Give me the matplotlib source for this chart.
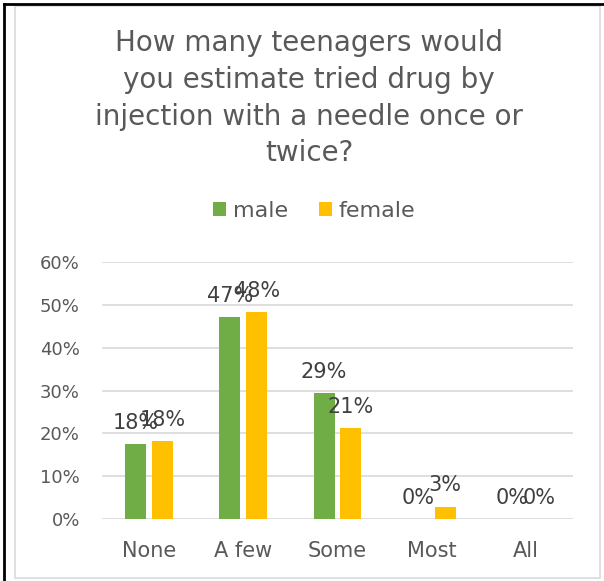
import matplotlib.pyplot as plt
import numpy as np
from matplotlib.patches import Rectangle
from matplotlib.lines import Line2D

# ===========================
# DATA
# ===========================

categories = ["None", "A few", "Some", "Most", "All"]
male = [0.176, 0.471, 0.293, 0.0, 0.0]
female = [0.181, 0.484, 0.212, 0.029, 0.0]
yticks = [0.0, 0.1, 0.2, 0.3, 0.4, 0.5, 0.6]

title = "How many teenagers would\nyou estimate tried drug by\ninjection with a needle once or\ntwice?"

GREEN = "#70AD47"
YELLOW = "#FFC000"
TXT = "#595959"

plt.rcParams["font.family"] = ["DejaVu Sans"]

# ===========================
# FIGURE
# ===========================

fig = plt.figure(figsize=(6.04, 5.81), dpi=100)
W, H = 604, 581

# frame around the chart
fig.patches.append(Rectangle((15 / W, 3 / H), 585 / W, 572 / H, transform=fig.transFigure,
                             fill=False, edgecolor="#D9D9D9", linewidth=1.2))
fig.lines.append(Line2D([4 / W, 4 / W], [0, 1 - 4 / H], transform=fig.transFigure,
                        color="black", linewidth=2))
fig.lines.append(Line2D([4 / W, 1], [1 - 4 / H, 1 - 4 / H], transform=fig.transFigure,
                        color="black", linewidth=2))

ax = fig.add_axes([102 / W, 1 - 519 / H, 471 / W, 257 / H])

x = np.arange(len(categories))
off = 0.143
bw = 0.223

b1 = ax.bar(x - off, male, bw, color=GREEN, label="male")
b2 = ax.bar(x + off, female, bw, color=YELLOW, label="female")

for bars, vals in [(b1, male), (b2, female)]:
    for r, v in zip(bars, vals):
        ax.annotate(f"{v * 100:.0f}%", (r.get_x() + r.get_width() / 2, v),
                    xytext=(0, 8), textcoords="offset points",
                    ha="center", va="bottom", fontsize=15, color="#404040")

ax.set_xlim(-0.5, len(categories) - 0.5)
ax.set_ylim(0, 0.6)
ax.set_yticks(yticks)
ax.set_yticklabels([f"{t * 100:.0f}%" for t in yticks], fontsize=13, color=TXT)
ax.set_xticks(x)
ax.set_xticklabels(categories, fontsize=15, color=TXT)
ax.tick_params(length=0)
ax.tick_params(axis="y", pad=16)
ax.tick_params(axis="x", pad=16)

ax.grid(axis="y", color="#D9D9D9", linewidth=1.2)
ax.set_axisbelow(True)
for s in ax.spines.values():
    s.set_visible(False)

fig.text(309 / W, 1 - 29 / H, title, ha="center", va="top", fontsize=20,
         color=TXT, linespacing=1.4)

fig.legend(handles=[b1, b2], loc="center", bbox_to_anchor=(314 / W, 1 - 211 / H),
           ncol=2, frameon=False, fontsize=16, handlelength=0.6, handleheight=0.6,
           handletextpad=0.3, columnspacing=1.4, labelcolor=TXT)

plt.savefig("out.png", dpi=100)
